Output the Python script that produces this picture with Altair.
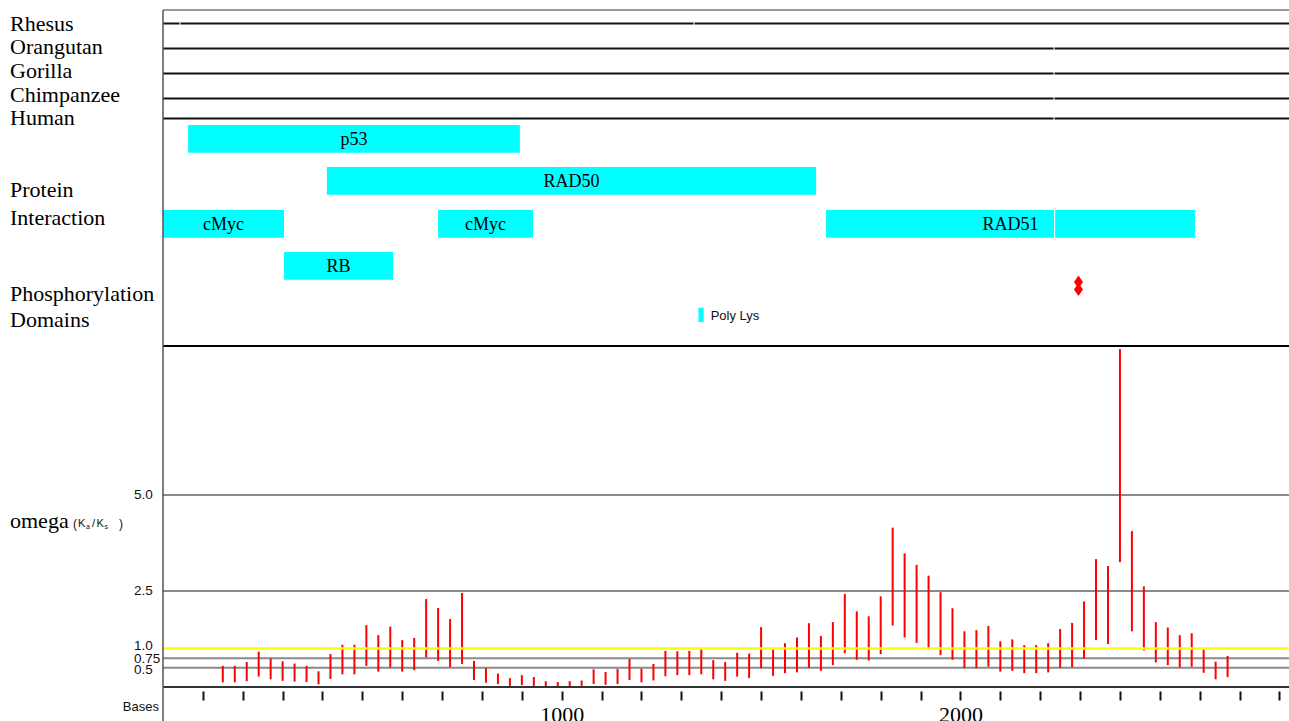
import altair as alt
import pandas as pd

# ------------------------------------------------------------------ data
species = ["Rhesus", "Orangutan", "Gorilla", "Chimpanzee", "Human"]
species_line_y = [13.5, 38.5, 63.5, 88.5, 108.5]     # track units (px below the top frame)
species_label_y = [20.5, 44, 67.5, 91.5, 115]

# aligned sequence segments per species (bases)
seg_species = ["Rhesus", "Rhesus", "Rhesus",
               "Orangutan", "Orangutan", "Gorilla", "Gorilla",
               "Chimpanzee", "Chimpanzee", "Human", "Human"]
seg_start = [0, 44, 1333, 0, 2236, 0, 2236, 0, 2236, 0, 2236]
seg_end = [41.5, 1330.5, 2840, 2233.5, 2840, 2233.5, 2840, 2233.5, 2840, 2233.5, 2840]

section_labels = ["Protein", "Interaction", "Phosphorylation", "Domains"]
section_label_y = [187.3, 215, 290.7, 317.3]

# protein-interaction regions (bases)
pi_name = ["p53", "RAD50", "cMyc", "cMyc", "RB", "RAD51", "RAD51"]
pi_start = [63, 411, 0, 690, 303.5, 1663, 2237.5]
pi_end = [895, 1638, 303.5, 928, 577, 2234.8, 2588]
pi_top = [115, 157, 200, 200, 242, 200, 200]
pi_bottom = [142.7, 184.7, 227.7, 227.7, 269.7, 227.7, 227.7]

pi_label = ["p53", "RAD50", "cMyc", "cMyc", "RB", "RAD51"]
pi_label_x = [479, 1024.5, 151.7, 809, 440, 2125.5]
pi_label_y = [129.5, 171.5, 214.5, 214.5, 256.5, 214.5]

# phosphorylation sites / domains
phos_pos = [2296, 2296]
phos_y = [272, 279.5]
dom_name = ["Poly Lys"]
dom_start = [1343]
dom_end = [1356]
dom_top = [297.7]
dom_bottom = [312]

# omega (Ka/Ks) intervals, one every 30 bases from base 150
omega_pos = list(range(150, 2671, 30))
omega_low = [0.12, 0.12, 0.15, 0.27, 0.20, 0.16, 0.14, 0.13, 0.07, 0.21, 0.33, 0.33, 0.55, 0.40, 0.51,
             0.40, 0.44, 0.77, 0.68, 0.52, 0.60, 0.18, 0.11, 0.08, 0.03, 0.05, 0.03, 0.01, 0.01, 0.01,
             0.03, 0.08, 0.06, 0.08, 0.18, 0.12, 0.17, 0.28, 0.31, 0.31, 0.33, 0.20, 0.16, 0.27, 0.23,
             0.49, 0.29, 0.36, 0.38, 0.50, 0.42, 0.57, 0.88,
             0.71, 0.69, 0.86, 1.60, 1.29, 1.15, 1.02, 0.83, 0.71, 0.49, 0.49, 0.53, 0.40, 0.42, 0.36,
             0.36, 0.38, 0.50, 0.52, 0.74, 1.22, 1.12, 3.25, 1.45, 0.95, 0.64, 0.57, 0.51, 0.53, 0.37,
             0.20, 0.26]
omega_high = [0.55, 0.55, 0.65, 0.92, 0.74, 0.67, 0.61, 0.55, 0.41, 0.86, 1.10, 1.10, 1.61, 1.35, 1.57,
              1.22, 1.28, 2.29, 2.06, 1.77, 2.45, 0.68, 0.49, 0.35, 0.23, 0.31, 0.26, 0.15, 0.13, 0.15,
              0.17, 0.46, 0.39, 0.47, 0.73, 0.48, 0.60, 0.94, 0.93, 0.94, 0.99, 0.70, 0.65, 0.89, 0.87,
              1.56, 0.98, 1.14, 1.29, 1.66, 1.33, 1.69, 2.42,
              1.97, 1.84, 2.36, 4.15, 3.48, 3.18, 2.90, 2.47, 2.05, 1.45, 1.48, 1.59, 1.19, 1.24, 1.09,
              1.09, 1.14, 1.51, 1.67, 2.23, 3.33, 3.15, 8.80, 4.06, 2.62, 1.69, 1.55, 1.35, 1.40, 0.98,
              0.66, 0.81]

grid_values = [0.5, 0.75, 2.5, 5.0]
neutral_value = [1.0]
y_tick_values = [0.5, 0.75, 1.0, 2.5, 5.0]
y_tick_text = ["0.5", "0.75", "1.0", "2.5", "5.0"]
y_tick_nudge = [2.5, 1.2, -2.2, 0, 0]          # small vertical label offsets (px, down positive)
x_tick_values = list(range(100, 2900, 100))

# ------------------------------------------------------------------ layout constants
W = 1126          # plot width (x 163 .. 1289)
H = 677           # plot height (y 10 .. 687)
SEP = 336         # separator between the annotation tracks and the omega panel
XMAX = 2824
PX_PER_OMEGA = 38.4
SERIF = "Liberation Serif"
SANS = "Liberation Sans"

xs = alt.Scale(domain=[0, XMAX], nice=False, zero=False)
ts = alt.Scale(domain=[0, H], reverse=True, nice=False, zero=False)          # track scale
ys = alt.Scale(domain=[0, H / PX_PER_OMEGA], nice=False, zero=False)         # omega scale

X_AXIS = alt.Axis(values=x_tick_values, domain=False, grid=False, offset=4, title=None,
                  tickSize=9, tickWidth=2, tickColor="#111",
                  labelExpr="datum.value % 1000 === 0 ? format(datum.value, 'd') : ''",
                  labelFont=SERIF, labelFontSize=22, labelColor="#000",
                  labelPadding=4, labelOverlap=False, labelFlush=False)


def X(field):
    return alt.X(field, scale=xs, axis=X_AXIS)


one = pd.DataFrame({"k": [0]})

# ------------------------------------------------------------------ annotation tracks
seg_df = pd.DataFrame({"species": seg_species, "start": seg_start, "end": seg_end})
seg_df["y"] = seg_df["species"].map(dict(zip(species, species_line_y)))
spec_lab_df = pd.DataFrame({"name": species, "y": species_label_y})
sec_lab_df = pd.DataFrame({"name": section_labels, "y": section_label_y})
pi_df = pd.DataFrame({"name": pi_name, "start": pi_start, "end": pi_end,
                      "top": pi_top, "bottom": pi_bottom})
pil_df = pd.DataFrame({"name": pi_label, "x": pi_label_x, "y": pi_label_y})
phos_df = pd.DataFrame({"pos": phos_pos, "y": phos_y})
dom_df = pd.DataFrame({"name": dom_name, "start": dom_start, "end": dom_end,
                       "top": dom_top, "bottom": dom_bottom})
dom_df["mid"] = (dom_df["top"] + dom_df["bottom"]) / 2

top_frame = alt.Chart(one).mark_rule(color="#9a9a9a", strokeWidth=2).encode(
    x=alt.value(0), x2=alt.value(W), y=alt.value(0))
left_frame = alt.Chart(one).mark_rule(color="#555555", strokeWidth=1.5).encode(
    x=alt.value(0), y=alt.value(0), y2=alt.value(H + 40))
sep_line = alt.Chart(one).mark_rule(color="#000000", strokeWidth=2).encode(
    x=alt.value(0), x2=alt.value(W), y=alt.value(SEP))

seg_layer = alt.Chart(seg_df).mark_rule(color="#111111", strokeWidth=2).encode(
    x=X("start:Q"), x2="end:Q", y=alt.Y("y:Q", scale=ts, axis=None))

spec_lab = alt.Chart(spec_lab_df).mark_text(
    align="left", baseline="alphabetic", font=SERIF, fontSize=22, color="#000").encode(
    x=alt.value(-153), y=alt.Y("y:Q", scale=ts, axis=None), text="name:N")
sec_lab = alt.Chart(sec_lab_df).mark_text(
    align="left", baseline="alphabetic", font=SERIF, fontSize=22, color="#000").encode(
    x=alt.value(-153), y=alt.Y("y:Q", scale=ts, axis=None), text="name:N")

pi_bars = alt.Chart(pi_df).mark_rect(color="#00ffff").encode(
    x=X("start:Q"), x2="end:Q", y=alt.Y("top:Q", scale=ts, axis=None), y2="bottom:Q")
pi_text = alt.Chart(pil_df).mark_text(
    font=SERIF, fontSize=18, baseline="middle", align="center", color="#000").encode(
    x=X("x:Q"), y=alt.Y("y:Q", scale=ts, axis=None), text="name:N")

dom_bar = alt.Chart(dom_df).mark_rect(color="#00ffff").encode(
    x=X("start:Q"), x2="end:Q", y=alt.Y("top:Q", scale=ts, axis=None), y2="bottom:Q")
dom_text = alt.Chart(dom_df).mark_text(
    font=SANS, fontSize=13, align="left", baseline="middle", dx=7, dy=1, color="#111").encode(
    x=X("end:Q"), y=alt.Y("mid:Q", scale=ts, axis=None), text="name:N")

phos = alt.Chart(phos_df).mark_point(
    shape="M0,-1.45L1,0L0,1.45L-1,0Z", filled=True, color="#ff0000", opacity=1, size=81).encode(
    x=X("pos:Q"), y=alt.Y("y:Q", scale=ts, axis=None))

# ------------------------------------------------------------------ omega panel
om_df = pd.DataFrame({"pos": omega_pos, "low": omega_low, "high": omega_high})
grid_df = pd.DataFrame({"v": grid_values})
neutral_df = pd.DataFrame({"v": neutral_value})
ylab_df = pd.DataFrame({"v": y_tick_values, "t": y_tick_text, "n": y_tick_nudge})

grid = alt.Chart(grid_df).mark_rule(color="#8a8a8a", strokeWidth=2).encode(
    x=alt.value(0), x2=alt.value(W), y=alt.Y("v:Q", scale=ys, axis=None))

bars = alt.Chart(om_df).mark_rule(color="#ff0000", strokeWidth=2).encode(
    x=X("pos:Q"), y=alt.Y("low:Q", scale=ys, axis=None), y2="high:Q")

# y tick labels of the omega panel (left aligned, slightly overlapping like the original)
ylab = alt.Chart(ylab_df).transform_calculate(
    vy=f"datum.v - datum.n / {PX_PER_OMEGA}").mark_text(
    align="left", baseline="middle", font=SANS, fontSize=13.5, color="#111").encode(
    x=alt.value(-29), y=alt.Y("vy:Q", scale=ys, axis=None), text="t:N")

neutral = alt.Chart(neutral_df).mark_rule(color="#ffff00", strokeWidth=2.5).encode(
    x=alt.value(0), x2=alt.value(W), y=alt.Y("v:Q", scale=ys, axis=None))

base_line = alt.Chart(one).mark_rule(color="#333333", strokeWidth=2).encode(
    x=alt.value(0), x2=alt.value(W), y=alt.value(H))

omega_lab = alt.Chart(one).mark_text(
    text="omega", align="left", baseline="alphabetic", font=SERIF, fontSize=22, color="#000").encode(
    x=alt.value(-153), y=alt.value(SEP + 182))

ratio_parts = pd.DataFrame({
    "t": ["(", "K", "a", "/", "K", "s", ")"],
    "dx": [-90, -85, -77, -71, -66.5, -58.5, -44],
    "dy": [181.5, 181, 183, 181, 181, 183, 181.5],
    "fs": [12, 11, 7, 11, 11, 7, 12],
})
ratio_marks = [
    alt.Chart(one).mark_text(text=r.t, align="left", baseline="alphabetic", font=SANS,
                             fontSize=r.fs, color="#111").encode(
        x=alt.value(r.dx), y=alt.value(SEP + r.dy))
    for r in ratio_parts.itertuples()
]

bases_lab = alt.Chart(one).mark_text(
    text="Bases", align="right", baseline="middle", font=SANS, fontSize=13, color="#111").encode(
    x=alt.value(-4), y=alt.value(H + 20))

chart = alt.layer(
    top_frame, seg_layer, spec_lab, sec_lab, pi_bars, pi_text, dom_bar, dom_text, phos,
    grid, bars, neutral, ylab, base_line, sep_line, left_frame, omega_lab, *ratio_marks, bases_lab,
).resolve_scale(y="independent").properties(
    width=W, height=H,
    autosize=alt.AutoSizeParams(type="none"),
    padding={"left": 163, "top": 10, "right": 0, "bottom": 34},
    background="#ffffff",
).configure_view(stroke=None)

chart.save("out.html", embed_options={"renderer": "svg", "actions": False})
